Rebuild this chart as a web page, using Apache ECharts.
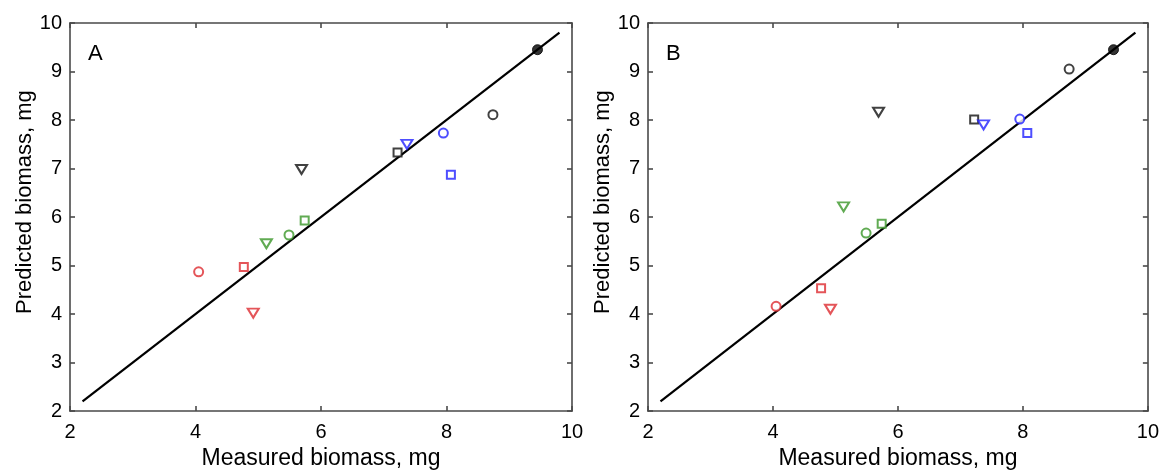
<!DOCTYPE html>
<html>
<head>
<meta charset="utf-8">
<script src="https://cdn.jsdelivr.net/npm/echarts@6/dist/echarts.min.js"></script>
<style>
html,body{margin:0;padding:0;background:#fff;}
#chart{width:1162px;height:475px;}
</style>
</head>
<body>
<div id="chart"></div>
<script>
// ---- data ----
var panelLabels = ['A', 'B'];
var measured   = [4.05, 4.77, 4.92, 5.13, 5.49, 5.74, 5.69, 7.22, 7.37, 7.95, 8.07, 8.74, 9.45];
var predictedA = [4.87, 4.97, 4.02, 5.45, 5.63, 5.93, 6.98, 7.33, 7.50, 7.73, 6.87, 8.11, 9.45];
var predictedB = [4.16, 4.53, 4.10, 6.21, 5.67, 5.86, 8.16, 8.01, 7.90, 8.02, 7.73, 9.05, 9.45];
var pointGroup = ['red','red','red','green','green','green','black','black','blue','blue','blue','black','black'];
var pointShape = ['circle','square','triangle','triangle','circle','square','triangle','square','triangle','circle','square','circle','filled'];
var fitLine = [2.2, 9.8];
var axisRange = [2, 10];
var xTickStep = 2;
var yTickStep = 1;
var xAxisTitle = 'Measured biomass, mg';
var yAxisTitle = 'Predicted biomass, mg';

// ---- styling ----
var groupColor = {red:'#dd2a30', green:'#3a9628', blue:'#2222ff', black:'#111111'};
var sans = "'Liberation Sans', Arial, sans-serif";
var frameColor = '#4a4a4a';

function pointData(pred) {
  return measured.map(function (m, i) {
    var c = groupColor[pointGroup[i]];
    var s = pointShape[i];
    var item = {value: [m, pred[i]], itemStyle: {color: '#fff', borderColor: c, borderWidth: 2}};
    if (s === 'circle') { item.symbol = 'circle'; item.symbolSize = 9; }
    else if (s === 'square') { item.symbol = 'rect'; item.symbolSize = 8; }
    else if (s === 'triangle') { item.symbol = 'triangle'; item.symbolSize = [11, 9]; item.symbolRotate = 180; }
    else { item.symbol = 'circle'; item.symbolSize = 10; item.itemStyle = {color: '#000', borderColor: '#000', borderWidth: 1}; }
    return item;
  });
}

var grids = [
  {left: 70, top: 23, width: 502, height: 400},
  {left: 648, top: 23, width: 503, height: 400}
];

var xAxes = [], yAxes = [], series = [], graphics = [];
[predictedA, predictedB].forEach(function (pred, g) {
  var common = {
    type: 'value', min: axisRange[0], max: axisRange[1],
    gridIndex: g, splitLine: {show: false},
    axisLine: {show: true, onZero: false, lineStyle: {color: frameColor, width: 1.6}},
    axisTick: {show: true, inside: true, length: 5, lineStyle: {color: frameColor, width: 1.6}}
  };
  xAxes.push(Object.assign({}, common, {
    position: 'bottom', interval: xTickStep,
    name: xAxisTitle, nameLocation: 'middle', nameGap: 27,
    nameTextStyle: {fontFamily: sans, fontSize: 23, color: '#000'},
    axisLabel: {fontFamily: sans, fontSize: 20, color: '#000', margin: 11}
  }));
  xAxes.push(Object.assign({}, common, {position: 'top', interval: xTickStep, axisLabel: {show: false}}));
  yAxes.push(Object.assign({}, common, {
    position: 'left', interval: yTickStep,
    name: yAxisTitle, nameLocation: 'middle', nameGap: 34,
    nameTextStyle: {fontFamily: sans, fontSize: 22, color: '#000', padding: [0, 0, 0, 30]},
    axisLabel: {fontFamily: sans, fontSize: 20, color: '#000', margin: 8}
  }));
  yAxes.push(Object.assign({}, common, {position: 'right', interval: yTickStep, axisLabel: {show: false}}));

  series.push({
    type: 'line', xAxisIndex: g * 2, yAxisIndex: g * 2,
    data: [[fitLine[0], fitLine[0]], [fitLine[1], fitLine[1]]],
    showSymbol: false, symbol: 'none', silent: true,
    lineStyle: {color: '#000', width: 2.2}, z: 2
  });
  series.push({
    type: 'scatter', xAxisIndex: g * 2, yAxisIndex: g * 2,
    data: pointData(pred), z: 3
  });
  graphics.push({
    type: 'text', left: grids[g].left + 18, top: 43,
    style: {text: panelLabels[g], font: '22px ' + sans, fill: '#000'}
  });
});

var chart = echarts.init(document.getElementById('chart'), null, {renderer: 'canvas'});
chart.setOption({
  animation: false,
  backgroundColor: '#fff',
  grid: grids,
  xAxis: xAxes,
  yAxis: yAxes,
  series: series,
  graphic: graphics
});
</script>
</body>
</html>
